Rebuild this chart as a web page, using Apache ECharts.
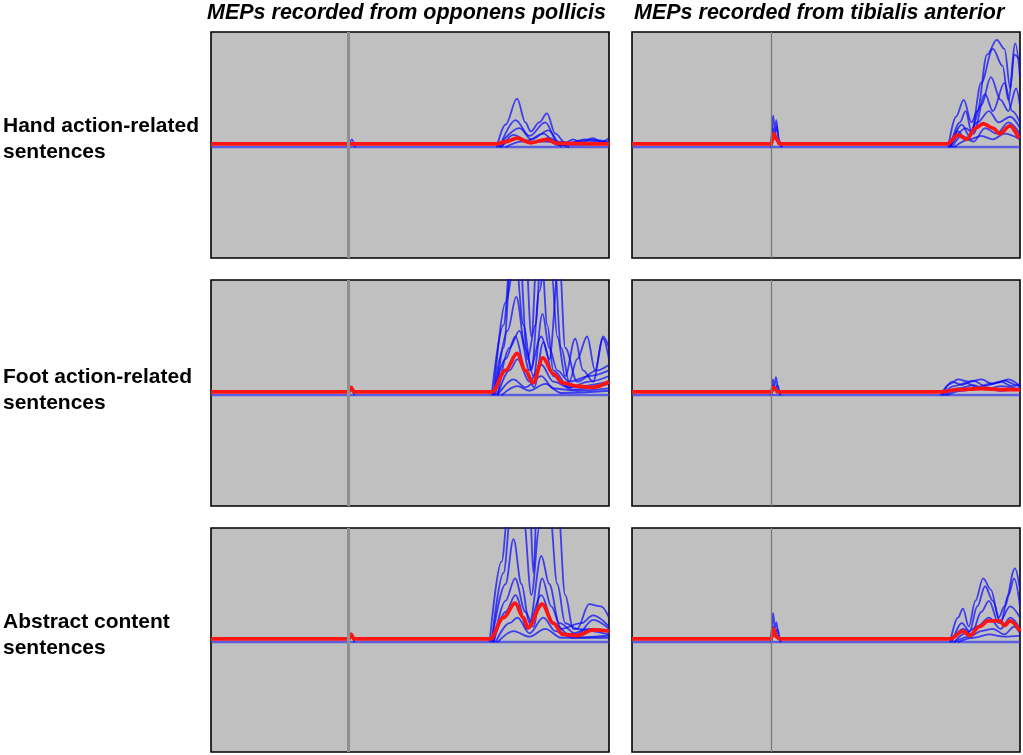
<!DOCTYPE html>
<html>
<head>
<meta charset="utf-8">
<script src="https://cdn.jsdelivr.net/npm/echarts@6/dist/echarts.min.js"></script>
<style>html,body{margin:0;padding:0;background:#fff;}#c{width:1023px;height:755px;}</style>
</head>
<body>
<div id="c"></div>
<script>
// ---- labels ----
const columnTitles = ['MEPs recorded from opponens pollicis', 'MEPs recorded from tibialis anterior'];
const rowLabels = ['Hand action-related\nsentences', 'Foot action-related\nsentences', 'Abstract content\nsentences'];

// ---- axes (time in % of sweep, amplitude in arbitrary mV units) ----
const timeRange = [0, 100];
const ampRange = [-1, 1];
const stimulusOP = 34.4;
const stimulusTA = 35.8;

// ---- Hand action-related, opponens pollicis ----
const handOP_base = [[0, -0.018], [100, -0.018]];
const handOP_trials = [
  [[34.6, -0.02], [35.4, 0.05], [36.2, -0.02]],
  [[71.8, -0.02], [74, 0.18], [76.9, 0.41], [79, 0.2], [80.3, 0.12], [82.5, 0.2], [84.4, 0.28], [86.5, 0.1], [89, 0.02], [91, 0.05], [93, 0.02], [96, 0.06], [98, 0.03], [100, 0.06]],
  [[72.5, -0.02], [76.5, 0.22], [80, 0.08], [84, 0.2], [87, 0.03], [90, 0.02], [94, 0.05], [100, 0.03]],
  [[72, -0.02], [77.5, 0.15], [80.5, 0.05], [84.8, 0.13], [88, 0.0], [94, 0.04], [100, 0.02]],
  [[73, -0.02], [76, 0.09], [79.5, 0.04], [83.5, 0.1], [87, 0.0], [100, 0.01]],
  [[72.5, -0.02], [77, 0.06], [81, 0.02], [85, 0.06], [88, -0.02]],
  [[74, -0.02], [78, 0.03], [84, 0.03], [90, -0.02]]
];
const handOP_mean = [[0, 0.01], [71.8, 0.01], [74, 0.03], [76.9, 0.06], [80.3, 0.02], [84.4, 0.05], [87, 0.015], [100, 0.01]];

// ---- Hand action-related, tibialis anterior ----
const handTA_base = [[0, -0.018], [100, -0.018]];
const handTA_trials = [
  [[35.9, -0.02], [36.2, 0.2], [36.4, 0.26], [36.8, 0.12], [37.2, 0.22], [37.8, 0.05], [38.5, -0.02]],
  [[35.9, -0.02], [36.3, 0.15], [36.8, 0.08], [37.3, 0.16], [38, 0.03], [38.6, -0.02]],
  [[81.5, -0.02], [83.5, 0.25], [85.5, 0.4], [87.5, 0.2], [89, 0.3], [91.5, 0.8], [94, 0.93], [96, 0.85], [97.5, 0.5], [98.5, 0.8], [100, 0.75]],
  [[82, -0.02], [84.5, 0.2], [86, 0.3], [87.5, 0.12], [90, 0.55], [93, 0.85], [95.5, 0.7], [97, 0.4], [98.8, 0.9], [100, 0.6]],
  [[82, -0.02], [85, 0.18], [87, 0.08], [90, 0.35], [92.5, 0.6], [95, 0.4], [97, 0.3], [99, 0.5], [100, 0.35]],
  [[81.8, -0.02], [84, 0.12], [86, 0.05], [89, 0.2], [92, 0.3], [94.5, 0.2], [97.5, 0.25], [100, 0.15]],
  [[82.5, -0.02], [85, 0.08], [88, 0.03], [91, 0.15], [94, 0.1], [97, 0.2], [100, 0.1]],
  [[83, -0.02], [87, 0.05], [90, 0.08], [93, 0.05], [96, 0.1], [100, 0.05]],
  [[82, -0.02], [86, 0.15], [88, 0.1], [91, 0.45], [93, 0.3], [96, 0.55], [98, 0.3], [100, 0.2]]
];
const handTA_mean = [[0, 0.01], [35.9, 0.01], [36.5, 0.1], [37.3, 0.05], [38, 0.01], [81.2, 0.01], [84, 0.09], [86.3, 0.05], [88.5, 0.15], [90.5, 0.19], [93, 0.15], [94.8, 0.1], [97.4, 0.17], [99.7, 0.06]];

// ---- Foot action-related, opponens pollicis ----
const footOP_base = [[0, -0.018], [100, -0.018]];
const footOP_trials = [
  [[34.6, -0.02], [35.2, 0.05], [36, -0.02]],
  [[70.5, -0.02], [73.5, 0.6], [75.5, 1.3], [79, 1.3], [80.5, 0.5], [82, 1.3], [86, 1.3], [88, 0.4], [90, 0.1], [92, 0.3], [94.5, 0.5], [96.5, 0.2], [98.5, 0.5], [100, 0.4]],
  [[71, -0.02], [74, 0.8], [76.5, 1.2], [78.5, 0.6], [80.5, 0.2], [82.5, 0.9], [84, 1.2], [85.5, 1.1], [87, 0.5], [89, 0.15], [91.5, 0.48], [93.5, 0.2], [96, 0.1], [98.5, 0.48], [100, 0.3]],
  [[71.5, -0.02], [74.5, 0.55], [76.7, 0.85], [79, 0.4], [81, 0.15], [83.3, 0.7], [85, 0.4], [87, 0.2], [90, 0.1], [95, 0.15], [100, 0.2]],
  [[71, -0.02], [74, 0.3], [76.5, 0.5], [79, 0.2], [81.2, 0.05], [83.5, 0.45], [86, 0.15], [90, 0.05], [95, 0.1], [100, 0.15]],
  [[72, -0.02], [75, 0.2], [77, 0.3], [80, 0.1], [83, 0.25], [86, 0.1], [91, 0.03], [100, 0.08]],
  [[72, -0.02], [76, 0.12], [79, 0.05], [83, 0.15], [86, 0.04], [92, 0.02], [100, 0.04]],
  [[73, -0.02], [77, 0.06], [80, 0.02], [84, 0.08], [88, 0.0], [100, 0.02]],
  [[71, -0.02], [73.5, 0.4], [75.5, 1.2], [77.5, 1.25], [79.5, 0.3], [81.5, 0.6], [83, 1.25], [84.5, 0.6], [86, 0.2], [90, 0.05], [100, 0.1]],
  [[72, -0.02], [75, 0.4], [77.5, 0.55], [80, 0.2], [83, 0.5], [85, 0.3], [87.5, 1.2], [89, 0.4], [92, 0.1], [97, 0.2], [100, 0.25]]
];
const footOP_mean = [[0, 0.01], [34.6, 0.01], [35.2, 0.05], [35.9, 0.01], [70.6, 0.01], [74, 0.2], [76.9, 0.35], [79, 0.2], [80.9, 0.09], [83.4, 0.31], [86, 0.17], [88.4, 0.09], [92, 0.06], [96, 0.05], [100, 0.1]];

// ---- Foot action-related, tibialis anterior ----
const footTA_base = [[0, -0.018], [100, -0.018]];
const footTA_trials = [
  [[35.9, -0.02], [36.3, 0.12], [36.7, 0.06], [37.1, 0.14], [37.7, 0.03], [38.3, -0.02]],
  [[35.9, -0.02], [36.4, 0.07], [37, 0.04], [37.5, 0.07], [38.2, -0.02]],
  [[79.5, -0.02], [82, 0.08], [84, 0.12], [87, 0.1], [90, 0.12], [93, 0.08], [96, 0.11], [99, 0.07], [100, 0.05]],
  [[80, -0.02], [83, 0.06], [86, 0.09], [89, 0.05], [92, 0.08], [95, 0.1], [98, 0.06], [100, 0.08]],
  [[80.5, -0.02], [84, 0.04], [88, 0.07], [91, 0.03], [95, 0.06], [100, 0.03]],
  [[81, -0.02], [85, 0.02], [90, 0.04], [95, 0.02], [100, 0.04]],
  [[80, -0.02], [82.5, 0.1], [85, 0.07], [88, 0.11], [91, 0.06], [94, 0.09], [97, 0.12], [100, 0.06]]
];
const footTA_mean = [[0, 0.01], [35.9, 0.01], [36.5, 0.05], [37.5, 0.01], [79.5, 0.01], [84, 0.03], [90, 0.04], [96, 0.03], [100, 0.03]];

// ---- Abstract content, opponens pollicis ----
const abstractOP_base = [[0, -0.018], [100, -0.018]];
const abstractOP_trials = [
  [[34.6, -0.02], [35.2, 0.06], [36, -0.02]],
  [[70, -0.02], [73, 0.7], [75, 1.3], [80, 1.3], [81, 0.6], [82, 1.3], [87, 1.3], [89, 0.4], [91, 0.1], [100, 0.05]],
  [[70.5, -0.02], [73.5, 0.6], [75.5, 1.2], [78.5, 1.1], [80.5, 0.4], [82.5, 1.0], [85, 1.2], [87, 0.5], [89, 0.15], [92, 0.1], [95, 0.32], [98, 0.3], [100, 0.2]],
  [[71, -0.02], [74, 0.35], [76.4, 0.55], [79, 0.25], [81, 0.12], [83.2, 0.55], [85.5, 0.3], [88, 0.1], [93, 0.15], [96, 0.22], [100, 0.12]],
  [[71, -0.02], [74, 0.25], [76.5, 0.4], [79.5, 0.1], [83, 0.4], [86, 0.15], [90, 0.05], [95, 0.1], [100, 0.08]],
  [[71.5, -0.02], [75, 0.15], [77, 0.2], [80, 0.06], [83.5, 0.2], [86.5, 0.08], [91, 0.02], [100, 0.04]],
  [[72, -0.02], [76, 0.08], [80, 0.03], [84, 0.1], [88, 0.02], [100, 0.02]],
  [[70.5, -0.02], [74, 0.5], [76, 0.9], [78, 0.5], [80, 0.15], [83, 0.75], [85, 0.5], [87.5, 0.15], [92, 0.05], [96, 0.18], [100, 0.1]]
];
const abstractOP_mean = [[0, 0.01], [34.6, 0.01], [35.2, 0.05], [35.9, 0.01], [70.1, 0.01], [73.5, 0.2], [76.4, 0.33], [78.5, 0.2], [79.6, 0.11], [83.2, 0.32], [86, 0.15], [88.4, 0.05], [92, 0.04], [96, 0.09], [100, 0.08]];

// ---- Abstract content, tibialis anterior ----
const abstractTA_base = [[0, -0.018], [100, -0.018]];
const abstractTA_trials = [
  [[35.9, -0.02], [36.2, 0.18], [36.4, 0.24], [36.8, 0.1], [37.2, 0.16], [37.8, 0.03], [38.4, -0.02]],
  [[35.9, -0.02], [36.4, 0.12], [37, 0.06], [37.5, 0.1], [38.2, -0.02]],
  [[82, -0.02], [84, 0.2], [85.3, 0.28], [86.8, 0.12], [88.5, 0.35], [90.5, 0.55], [92.5, 0.45], [94.5, 0.2], [96, 0.3], [98.7, 0.64], [100, 0.45]],
  [[82.5, -0.02], [85, 0.15], [87, 0.08], [89, 0.3], [91, 0.48], [93, 0.35], [95, 0.15], [97, 0.4], [98.5, 0.55], [100, 0.3]],
  [[82, -0.02], [85.5, 0.1], [87.5, 0.05], [90, 0.25], [92, 0.35], [94.5, 0.15], [97.5, 0.3], [100, 0.2]],
  [[83, -0.02], [86, 0.06], [89, 0.12], [92, 0.2], [95, 0.1], [97.5, 0.2], [100, 0.1]],
  [[83, -0.02], [87, 0.03], [90, 0.08], [93, 0.1], [96, 0.05], [98.5, 0.12], [100, 0.06]],
  [[84, -0.02], [88, 0.02], [92, 0.05], [96, 0.03], [100, 0.04]]
];
const abstractTA_mean = [[0, 0.01], [35.9, 0.01], [36.4, 0.1], [37.2, 0.03], [38, 0.01], [82, 0.01], [85.3, 0.08], [87.1, 0.04], [89.5, 0.12], [91.8, 0.17], [94.8, 0.17], [96, 0.13], [97.4, 0.17], [100, 0.08]];

// ---- build ----
const panels = [
  { base: handOP_base, trials: handOP_trials, mean: handOP_mean, stim: stimulusOP, op: true },
  { base: handTA_base, trials: handTA_trials, mean: handTA_mean, stim: stimulusTA, op: false },
  { base: footOP_base, trials: footOP_trials, mean: footOP_mean, stim: stimulusOP, op: true },
  { base: footTA_base, trials: footTA_trials, mean: footTA_mean, stim: stimulusTA, op: false },
  { base: abstractOP_base, trials: abstractOP_trials, mean: abstractOP_mean, stim: stimulusOP, op: true },
  { base: abstractTA_base, trials: abstractTA_trials, mean: abstractTA_mean, stim: stimulusTA, op: false }
];
const gridRects = [
  { left: 211, top: 32, width: 398, height: 226 },
  { left: 632, top: 32, width: 388, height: 226 },
  { left: 211, top: 280, width: 398, height: 226 },
  { left: 632, top: 280, width: 388, height: 226 },
  { left: 211, top: 528, width: 398, height: 224 },
  { left: 632, top: 528, width: 388, height: 224 }
];

const grid = [], xAxis = [], yAxis = [], series = [];
const BLUE = 'rgba(10,10,255,0.72)';
const RED = '#ff1414';
panels.forEach((p, i) => {
  grid.push(Object.assign({ show: true, backgroundColor: '#c0c0c0', borderColor: '#000', borderWidth: 1.6 }, gridRects[i]));
  xAxis.push({ type: 'value', gridIndex: i, min: timeRange[0], max: timeRange[1], show: false });
  yAxis.push({ type: 'value', gridIndex: i, min: ampRange[0], max: ampRange[1], show: false });
  series.push({
    type: 'line', xAxisIndex: i, yAxisIndex: i, data: p.base, showSymbol: false, silent: true,
    lineStyle: { color: 'rgba(60,60,235,0.75)', width: 2.6 }, z: 2,
    markLine: {
      silent: true, symbol: ['none', 'none'], label: { show: false }, animation: false,
      lineStyle: { color: p.op ? '#8f8f8f' : '#7a7a7a', width: p.op ? 3 : 1.3, type: 'solid', opacity: 1 },
      emphasis: { disabled: true },
      data: [{ xAxis: p.stim }]
    }
  });
  p.trials.forEach(t => {
    series.push({
      type: 'line', xAxisIndex: i, yAxisIndex: i, data: t, showSymbol: false, silent: true,
      smooth: 0.35, smoothMonotone: 'x', lineStyle: { color: BLUE, width: 1.8 }, z: 3
    });
  });
  series.push({
    type: 'line', xAxisIndex: i, yAxisIndex: i, data: p.mean, showSymbol: false, silent: true,
    smooth: 0.35, smoothMonotone: 'x', lineStyle: { color: RED, width: 3.8 }, z: 4
  });
});

const textStyleRow = { font: 'bold 21px "Liberation Sans", Arial, sans-serif', fill: '#000', lineHeight: 26 };
const titleFont = 'italic bold 21.5px "Liberation Sans", Arial, sans-serif';
const graphic = [
  { type: 'text', left: 207, top: 2, style: { text: columnTitles[0], font: titleFont, fill: '#000' } },
  { type: 'text', left: 634, top: 2, style: { text: columnTitles[1], font: titleFont, fill: '#000' } },
  { type: 'text', left: 3, top: 113, style: Object.assign({ text: rowLabels[0] }, textStyleRow) },
  { type: 'text', left: 3, top: 364, style: Object.assign({ text: rowLabels[1] }, textStyleRow) },
  { type: 'text', left: 3, top: 609, style: Object.assign({ text: rowLabels[2] }, textStyleRow) }
];

const chart = echarts.init(document.getElementById('c'), null, { renderer: 'canvas' });
chart.setOption({ animation: false, grid, xAxis, yAxis, series, graphic });
</script>
</body>
</html>
